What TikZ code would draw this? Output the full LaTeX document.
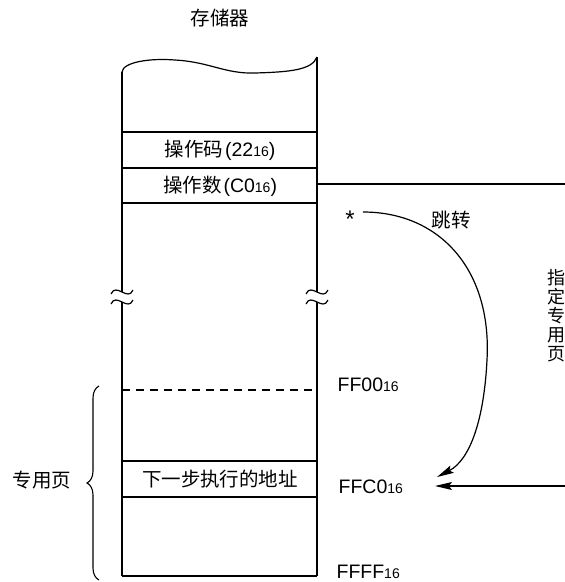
\documentclass[tikz,border=0pt]{standalone}
\usepackage{fontspec}
\setmainfont{Liberation Sans}
\newfontfamily\cjk{Noto Sans CJK SC}
\usetikzlibrary{arrows.meta,decorations.pathreplacing}
\newcommand{\hexsub}[1]{\raisebox{-0.5pt}{\fontsize{14}{14}\selectfont #1}}
\begin{document}
\begin{tikzpicture}[x=1pt,y=-1pt,line width=1.2pt,
  font=\fontsize{19.5}{21}\selectfont,
  every node/.style={inner sep=0pt},
  lbl/.style={font=\fontsize{19.5}{21}\selectfont\cjk},
  addr/.style={anchor=west,font=\fontsize{19.5}{21}\selectfont},
  tip/.style={-{Stealth[length=17pt,width=8pt,inset=3pt]}}]
\useasboundingbox (0,0) rectangle (565,582);
% coordinates
\coordinate (TL) at (122,72);
\coordinate (TR) at (317,57);
\coordinate (BL) at (122,576);
\coordinate (BR) at (317,576);
% top wavy edge
\draw (TL) .. controls (123,62) and (150,58) .. (175,60)
      .. controls (210,62) and (225,74) .. (255,73)
      .. controls (290,72) and (312,70) .. (TR);
% side lines with breaks
\draw (TL) -- (122,292);
\draw (122,302) -- (BL);
\draw (TR) -- (317,292);
\draw (317,302) -- (BR);
\foreach \x in {122,317}{
  \foreach \y in {292,302}{
    \draw (\x-11,\y+2) .. controls (\x-6,\y-10) and (\x+6,\y+10) .. (\x+11,\y-2);
  }
}
\draw (BL) -- (BR);
% cells
\draw (122,132) -- (317,132);
\draw (122,168) -- (317,168);
\draw (122,203) -- (317,203);
\draw[dash pattern=on 8pt off 6pt] (122,390) -- (317,390);
\draw (122,461) -- (317,461);
\draw (122,497) -- (317,497);
\node[lbl] (op) at (220,150) {操作码\hspace{2pt}\fontspec{Liberation Sans}(22\hexsub{16})};
\node[lbl] (opd) at (220,186) {操作数\hspace{2pt}\fontspec{Liberation Sans}(C0\hexsub{16})};
\node[lbl] (next) at (220,479) {下一步执行的地址};
\node[lbl] (mem) at (220,18) {存储器};
% addresses
\node[addr] (ff00) at (337,385) {FF00\hexsub{16}};
\node[addr] (ffc0) at (338,487) {FFC0\hexsub{16}};
\node[addr] (ffff) at (336,572) {FFFF\hexsub{16}};
% operand line and arrow
\coordinate (opR) at (317,184);
\coordinate (E1) at (565,184);
\draw (opR) -- (E1);
\coordinate (E2) at (565,486);
\coordinate (A2) at (435,486);
\draw[tip] (E2) -- (A2);
% jump curve
\node[font=\fontsize{24}{24}\selectfont] (star) at (350,219) {*};
\coordinate (J0) at (363,212);
\coordinate (J1) at (437,477);
\draw[tip] (J0) .. controls (440,212) and (492,270) .. (487,360)
      .. controls (484,420) and (470,460) .. (J1);
\node[lbl] (jump) at (451,220) {跳转};
\node[lbl,align=center,font=\fontsize{18}{19}\selectfont\cjk] (page) at (556,316) {指\\定\\专\\用\\页};
% brace
\coordinate (B1) at (99,580);
\coordinate (B2) at (99,386);
\draw[line width=1.1pt,decorate,decoration={brace,amplitude=12pt}] (B1) -- (B2);
\node[lbl] (sp) at (42,480) {专用页};
\end{tikzpicture}
\end{document}
